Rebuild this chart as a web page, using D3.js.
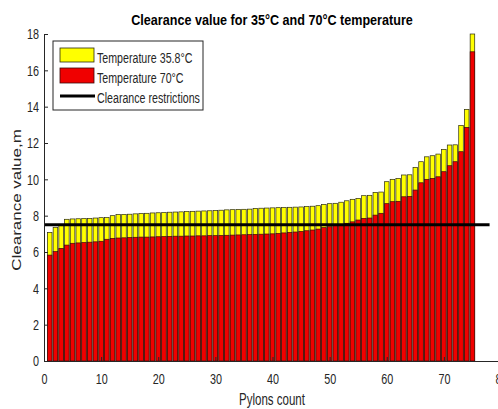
<!DOCTYPE html>
<html>
<head>
<meta charset="utf-8">
<script src="https://cdn.jsdelivr.net/npm/d3@7"></script>
<style>
	html, body { margin: 0; padding: 0; background: #fff; }
	svg { display: block; font-family: "Liberation Sans", Arial, sans-serif; }
</style>
</head>
<body>
<svg id="chart" width="498" height="409"></svg>
<script>
// pylon index 1..75
var pylons = d3.range(1, 76);

// clearance at 35.8°C (m)
var temp35 = [7.08, 7.36, 7.45, 7.80, 7.82, 7.83, 7.84, 7.85, 7.87, 7.89,
	7.90, 8.00, 8.06, 8.07, 8.08, 8.10, 8.12, 8.13, 8.15, 8.16,
	8.17, 8.19, 8.20, 8.21, 8.23, 8.24, 8.25, 8.26, 8.27, 8.28,
	8.30, 8.32, 8.33, 8.34, 8.35, 8.36, 8.40, 8.41, 8.42, 8.43,
	8.44, 8.45, 8.46, 8.47, 8.48, 8.50, 8.52, 8.55, 8.62, 8.66,
	8.68, 8.74, 8.82, 8.90, 8.95, 9.10, 9.12, 9.28, 9.30, 9.87,
	10.00, 10.05, 10.24, 10.25, 10.66, 10.97, 11.24, 11.30, 11.39, 11.65,
	11.89, 11.90, 12.97, 13.85, 18.00];

// clearance at 70°C (m)
var temp70 = [5.83, 6.02, 6.20, 6.38, 6.48, 6.50, 6.52, 6.54, 6.56, 6.59,
	6.70, 6.75, 6.77, 6.78, 6.80, 6.81, 6.82, 6.82, 6.83, 6.84,
	6.85, 6.86, 6.87, 6.87, 6.88, 6.88, 6.89, 6.89, 6.90, 6.90,
	6.91, 6.92, 6.93, 6.94, 6.95, 6.96, 6.97, 6.98, 6.99, 7.00,
	7.02, 7.05, 7.08, 7.10, 7.13, 7.17, 7.21, 7.26, 7.34, 7.39,
	7.45, 7.50, 7.58, 7.66, 7.76, 7.85, 7.87, 8.03, 8.13, 8.66,
	8.77, 8.79, 9.04, 9.06, 9.41, 9.81, 10.00, 10.05, 10.14, 10.42,
	10.75, 10.97, 11.52, 12.86, 17.02];

// restriction line
var limitValue = 7.5;
var limitRange = [0, 78];

var xTicks = [0, 10, 20, 30, 40, 50, 60, 70, 80];
var yTicks = [0, 2, 4, 6, 8, 10, 12, 14, 16, 18];

var legendLabels = ["Temperature 35.8°C", "Temperature 70°C", "Clearance restrictions"];

var svg = d3.select("#chart"),
	ink = "#262626",
	sx = 0.72; // the figure text looks squeezed sideways

var x = d3.scaleLinear().domain([0, 80]).range([44, 501]),
	y = d3.scaleLinear().domain([0, 18]).range([361, 34]);

var bw = (x(1) - x(0)) * 0.8;

// yellow bars (35.8°C) behind
svg.append("g").selectAll("rect")
	.data(pylons)
	.enter().append("rect")
	.attr("x", function(d) { return x(d) - bw / 2; })
	.attr("y", function(d, i) { return y(temp35[i]); })
	.attr("width", bw)
	.attr("height", function(d, i) { return y(0) - y(temp35[i]); })
	.attr("fill", "#ffff00")
	.attr("stroke", "#2a2a10")
	.attr("stroke-width", 0.7);

// red bars (70°C) in front
svg.append("g").selectAll("rect")
	.data(pylons)
	.enter().append("rect")
	.attr("x", function(d) { return x(d) - bw / 2; })
	.attr("y", function(d, i) { return y(temp70[i]); })
	.attr("width", bw)
	.attr("height", function(d, i) { return y(0) - y(temp70[i]); })
	.attr("fill", "#f00000")
	.attr("stroke", "#3a0a0a")
	.attr("stroke-width", 0.7);

// restriction line
svg.append("line")
	.attr("x1", x(limitRange[0]))
	.attr("x2", x(limitRange[1]))
	.attr("y1", y(limitValue))
	.attr("y2", y(limitValue))
	.attr("stroke", "#000")
	.attr("stroke-width", 3);

// axes
var xAxis = svg.append("g")
	.attr("transform", "translate(0," + y(0) + ")")
	.call(d3.axisBottom(x).tickValues(xTicks).tickSize(-4).tickSizeOuter(0).tickPadding(12).tickFormat(d3.format("d")));

var yAxis = svg.append("g")
	.attr("transform", "translate(" + x(0) + ",0)")
	.call(d3.axisLeft(y).tickValues(yTicks).tickSize(-4).tickSizeOuter(0).tickPadding(7).tickFormat(d3.format("d")));

[xAxis, yAxis].forEach(function(a) {
	a.select(".domain").attr("stroke", ink);
	a.selectAll(".tick line").attr("stroke", ink);
	a.selectAll(".tick text")
		.attr("fill", ink)
		.style("font-size", "15px")
		.attr("transform", "scale(" + sx + ",1)");
});

// title
svg.append("g")
	.attr("transform", "translate(272,25)")
	.append("text")
	.attr("transform", "scale(0.84,1)")
	.attr("text-anchor", "middle")
	.style("font-size", "15px")
	.style("font-weight", "bold")
	.attr("fill", "#000")
	.text("Clearance value for 35°C and 70°C temperature");

// axis labels
svg.append("g")
	.attr("transform", "translate(272,405)")
	.append("text")
	.attr("transform", "scale(" + sx + ",1)")
	.attr("text-anchor", "middle")
	.style("font-size", "16px")
	.attr("fill", ink)
	.text("Pylons count");

svg.append("g")
	.attr("transform", "translate(21,200) scale(" + sx + ",1) rotate(-90)")
	.append("text")
	.attr("text-anchor", "middle")
	.style("font-size", "17px")
	.attr("fill", ink)
	.text("Clearance value,m");

// legend
var legend = svg.append("g");

legend.append("rect")
	.attr("x", 53).attr("y", 41)
	.attr("width", 150).attr("height", 69)
	.attr("fill", "#fff")
	.attr("stroke", ink)
	.attr("stroke-width", 1);

var rows = [63, 83, 103];

legend.append("rect")
	.attr("x", 60).attr("y", 48).attr("width", 34).attr("height", 14)
	.attr("fill", "#ffff00").attr("stroke", "#2a2a10").attr("stroke-width", 0.8);
legend.append("rect")
	.attr("x", 60).attr("y", 68).attr("width", 34).attr("height", 15)
	.attr("fill", "#f00000").attr("stroke", "#3a0a0a").attr("stroke-width", 0.8);
legend.append("line")
	.attr("x1", 60).attr("x2", 95).attr("y1", 96).attr("y2", 96)
	.attr("stroke", "#000").attr("stroke-width", 3);

legend.selectAll("g.lab")
	.data(legendLabels)
	.enter().append("g")
	.attr("class", "lab")
	.attr("transform", function(d, i) { return "translate(97," + rows[i] + ")"; })
	.append("text")
	.attr("transform", "scale(0.71,1)")
	.style("font-size", "15px")
	.attr("fill", ink)
	.text(function(d) { return d; });
</script>
</body>
</html>
